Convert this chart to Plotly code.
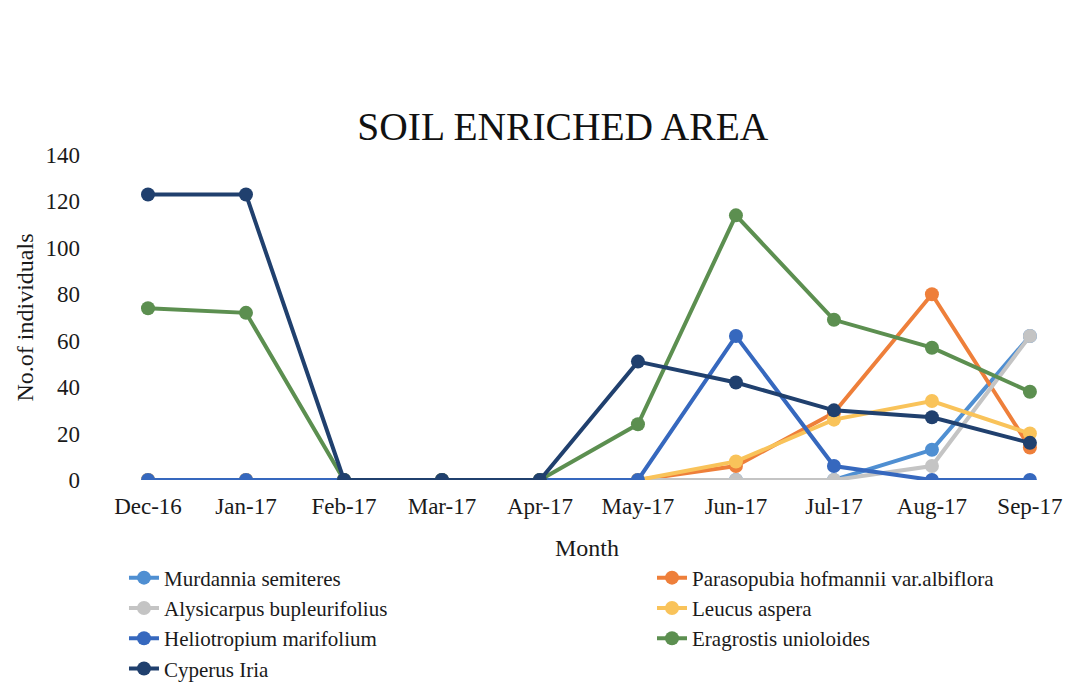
import plotly.graph_objects as go

months = ['Dec-16', 'Jan-17', 'Feb-17', 'Mar-17', 'Apr-17',
          'May-17', 'Jun-17', 'Jul-17', 'Aug-17', 'Sep-17']

murdannia = [0, 0, 0, 0, 0, 0, 0, 0, 13, 62]
parasopubia = [0, 0, 0, 0, 0, 0, 6, 29, 80, 14]
alysicarpus = [0, 0, 0, 0, 0, 0, 0, 0, 6, 62]
leucus = [0, 0, 0, 0, 0, 0, 8, 26, 34, 20]
heliotropium = [0, 0, 0, 0, 0, 0, 62, 6, 0, 0]
eragrostis = [74, 72, 0, 0, 0, 24, 114, 69, 57, 38]
cyperus = [123, 123, 0, 0, 0, 51, 42, 30, 27, 16]

# (name, values, colour, legend column)
series = [
    ('Murdannia semiteres', murdannia, '#4F8FD2', 'legend'),
    ('Parasopubia hofmannii var.albiflora', parasopubia, '#EE7F3A', 'legend2'),
    ('Alysicarpus bupleurifolius', alysicarpus, '#C4C4C4', 'legend'),
    ('Leucus aspera', leucus, '#F9C35A', 'legend2'),
    ('Heliotropium marifolium', heliotropium, '#3668BE', 'legend'),
    ('Eragrostis unioloides', eragrostis, '#5C8F50', 'legend2'),
    ('Cyperus Iria', cyperus, '#20406E', 'legend'),
]

serif = 'Liberation Serif, Times New Roman, serif'

fig = go.Figure()
for name, vals, color, leg in series:
    fig.add_trace(go.Scatter(
        x = months,
        y = vals,
        name = name,
        mode = 'lines+markers',
        line = dict(color = color, width = 4),
        marker = dict(color = color, size = 14),
        legend = leg,
    ))

# the page body adds an 8px offset, so the figure is 8px smaller than the window
fig.update_layout(
    width = 1067,
    height = 676,
    margin = dict(l = 91, r = 0, t = 147, b = 204, autoexpand = False),
    paper_bgcolor = 'white',
    plot_bgcolor = 'white',
    font = dict(family = serif, size = 23, color = '#1a1a1a'),
    title = dict(
        text = 'SOIL ENRICHED AREA',
        font = dict(family = serif, size = 39.5, color = '#111111'),
        x = 0.520,
        xanchor = 'center',
        y = 1 - 118 / 676,
        yanchor = 'middle',
    ),
    xaxis = dict(
        range = [-0.5, 9.46],
        showgrid = False,
        zeroline = False,
        showline = False,
        automargin = False,
        ticklabelstandoff = 10,
        title = dict(text = 'Month', standoff = 21, font = dict(size = 24)),
    ),
    yaxis = dict(
        range = [0, 140],
        tickvals = [0, 20, 40, 60, 80, 100, 120, 140],
        showgrid = False,
        zeroline = False,
        showline = False,
        automargin = False,
        ticklabelstandoff = 18,
        title = dict(text = 'No.of individuals', standoff = 5, font = dict(size = 24)),
    ),
    legend = dict(
        x = 0.0256,
        xanchor = 'left',
        y = -0.2385,
        yanchor = 'top',
        orientation = 'v',
        font = dict(size = 21),
        bgcolor = 'rgba(0,0,0,0)',
    ),
    legend2 = dict(
        x = 0.5666,
        xanchor = 'left',
        y = -0.2385,
        yanchor = 'top',
        orientation = 'v',
        font = dict(size = 21),
        bgcolor = 'rgba(0,0,0,0)',
    ),
)

fig.write_html('out.html')
